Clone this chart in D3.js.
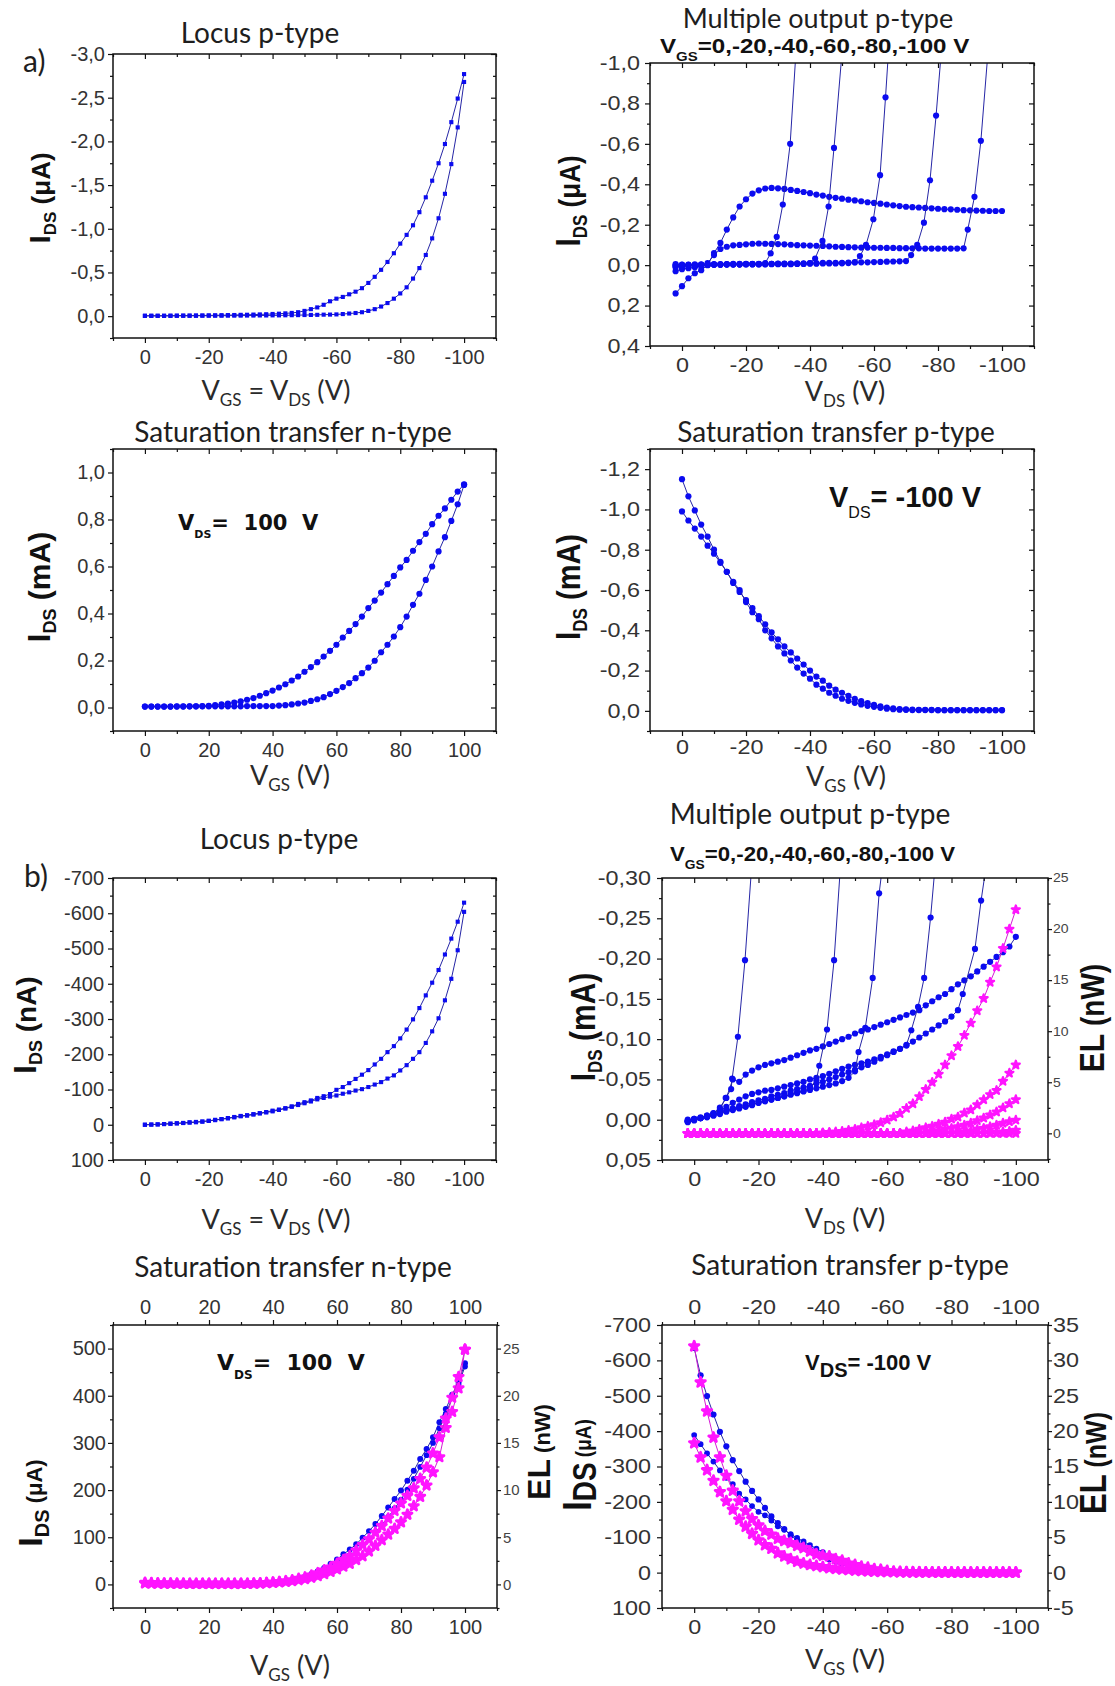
<!DOCTYPE html>
<html>
<head>
<meta charset="utf-8">
<title>Transistor characteristics</title>
<script src="https://cdn.jsdelivr.net/npm/d3@7/dist/d3.min.js"></script>
<style>
  html, body { margin: 0; padding: 0; background: #fff; }
  svg { display: block; }
</style>
</head>
<body>
<svg id="fig" width="1115" height="1686" viewBox="0 0 1115 1686"></svg>
<script>
// ---------- sweep grids (V) ----------
const vPos = [0,2,4,6,8,10,12,14,16,18,20,22,24,26,28,30,32,34,36,38,40,42,44,46,48,50,52,54,56,58,60,62,64,66,68,70,72,74,76,78,80,82,84,86,88,90,92,94,96,98,100];
const vNeg = [0,-2,-4,-6,-8,-10,-12,-14,-16,-18,-20,-22,-24,-26,-28,-30,-32,-34,-36,-38,-40,-42,-44,-46,-48,-50,-52,-54,-56,-58,-60,-62,-64,-66,-68,-70,-72,-74,-76,-78,-80,-82,-84,-86,-88,-90,-92,-94,-96,-98,-100];
const vNeg2 = [2,0,-2,-4,-6,-8,-10,-12,-14,-16,-18,-20,-22,-24,-26,-28,-30,-32,-34,-36,-38,-40,-42,-44,-46,-48,-50,-52,-54,-56,-58,-60,-62,-64,-66,-68,-70,-72,-74,-76,-78,-80,-82,-84,-86,-88,-90,-92,-94,-96,-98,-100];

// ---------- tick values ----------
const xTicksNeg = [0,-20,-40,-60,-80,-100];
const xTicksPos = [0,20,40,60,80,100];
const locusA_yTicks = [-3.0,-2.5,-2.0,-1.5,-1.0,-0.5,0.0];
const outA_yTicks = [-1.0,-0.8,-0.6,-0.4,-0.2,0.0,0.2,0.4];
const satNA_yTicks = [0.0,0.2,0.4,0.6,0.8,1.0];
const satPA_yTicks = [-1.2,-1.0,-0.8,-0.6,-0.4,-0.2,0.0];
const locusB_yTicks = [-700,-600,-500,-400,-300,-200,-100,0,100];
const outB_yTicks = [-0.30,-0.25,-0.20,-0.15,-0.10,-0.05,0.00,0.05];
const outB_elTicks = [0,5,10,15,20,25];
const satNB_yTicks = [0,100,200,300,400,500];
const satNB_elTicks = [0,5,10,15,20,25];
const satPB_yTicks = [-700,-600,-500,-400,-300,-200,-100,0,100];
const satPB_elTicks = [-5,0,5,10,15,20,25,30,35];

// ---------- (a) locus p-type, I_DS in uA, V_GS = V_DS from 0 to -100 V ----------
const locusA_fwd = [-0.005,-0.005,-0.005,-0.005,-0.006,-0.006,-0.007,-0.007,-0.008,-0.008,-0.009,-0.010,-0.011,-0.012,-0.013,-0.015,-0.016,-0.018,-0.020,-0.022,-0.025,-0.028,-0.032,-0.037,-0.045,-0.060,-0.080,-0.100,-0.130,-0.170,-0.200,-0.220,-0.250,-0.280,-0.320,-0.380,-0.450,-0.530,-0.620,-0.720,-0.830,-0.930,-1.040,-1.190,-1.360,-1.550,-1.750,-1.970,-2.220,-2.490,-2.770];
const locusA_rev = [-0.003,-0.003,-0.003,-0.003,-0.003,-0.004,-0.004,-0.004,-0.004,-0.005,-0.005,-0.005,-0.005,-0.006,-0.006,-0.006,-0.007,-0.007,-0.008,-0.008,-0.009,-0.009,-0.010,-0.011,-0.012,-0.013,-0.014,-0.015,-0.017,-0.018,-0.020,-0.024,-0.030,-0.036,-0.045,-0.060,-0.080,-0.110,-0.150,-0.200,-0.260,-0.330,-0.430,-0.550,-0.700,-0.890,-1.120,-1.400,-1.740,-2.160,-2.680];

// ---------- (a) multiple output p-type, I_DS in uA, V_DS from +2 V ----------
const outA_s0 = [0.140,0.104,0.065,0.040,0.025,0.000,-0.060,-0.110,-0.176,-0.236,-0.290,-0.326,-0.354,-0.370,-0.379,-0.382,-0.380,-0.377,-0.372,-0.367,-0.362,-0.356,-0.349,-0.344,-0.338,-0.333,-0.329,-0.324,-0.320,-0.316,-0.311,-0.308,-0.304,-0.300,-0.296,-0.292,-0.289,-0.287,-0.285,-0.283,-0.281,-0.279,-0.277,-0.276,-0.274,-0.272,-0.271,-0.270,-0.269,-0.268,-0.268,-0.268];
const outA_s1 = [0.030,0.020,0.015,0.010,0.005,-0.010,-0.050,-0.080,-0.091,-0.098,-0.100,-0.103,-0.106,-0.107,-0.106,-0.105,-0.104,-0.103,-0.101,-0.099,-0.098,-0.097,-0.096,-0.095,-0.093,-0.091,-0.090,-0.089,-0.088,-0.087,-0.087,-0.086,-0.086,-0.085,-0.085,-0.084,-0.084,-0.083,-0.083,-0.082,-0.082,-0.082,-0.082,-0.082,-0.082,-0.083];
const outA_s1RiseV = [-89.3,-91.4,-93.4,-95.6];
const outA_s1RiseI = [-0.176,-0.338,-0.615,-1.050];
const outA_s2 = [0.000,-0.002,-0.003,-0.004,-0.004,-0.004,-0.005,-0.005,-0.005,-0.006,-0.006,-0.006,-0.006,-0.007,-0.007,-0.007,-0.008,-0.008,-0.008,-0.009,-0.009,-0.010,-0.010,-0.011,-0.011,-0.012,-0.012,-0.013,-0.013,-0.014,-0.014,-0.015,-0.016,-0.017,-0.018,-0.019,-0.020];
const outA_s2RiseV = [-71.6,-73.5,-75.6,-77.5,-79.4,-81.0];
const outA_s2RiseI = [-0.050,-0.100,-0.210,-0.420,-0.740,-1.050];
const outA_s3 = [0.010,0.005,0.002,0.000,-0.001,-0.002,-0.003,-0.003,-0.004,-0.004,-0.004,-0.005,-0.005,-0.005,-0.005,-0.006,-0.006,-0.006,-0.006,-0.007,-0.007,-0.007,-0.007,-0.008,-0.008,-0.008,-0.009,-0.010,-0.015];
const outA_s3RiseV = [-55.6,-57.5,-59.8,-61.9,-63.6,-64.5];
const outA_s3RiseI = [-0.045,-0.100,-0.227,-0.445,-0.830,-1.050];
const outA_s4 = [0.005,0.004,0.003,0.002,0.000,-0.001,-0.002,-0.002,-0.003,-0.003,-0.003,-0.004,-0.004,-0.004,-0.004,-0.005,-0.005,-0.005,-0.005,-0.006,-0.006,-0.010];
const outA_s4RiseV = [-41.6,-43.9,-45.8,-47.5,-50.0];
const outA_s4RiseI = [-0.033,-0.120,-0.290,-0.580,-1.050];
const outA_s5 = [-0.005,-0.003,-0.001,0.000,-0.001,-0.002,-0.003,-0.003,-0.004,-0.004,-0.004,-0.005,-0.005,-0.005,-0.010];
const outA_s5RiseV = [-27.7,-29.6,-31.5,-33.8,-35.6];
const outA_s5RiseI = [-0.058,-0.140,-0.300,-0.600,-1.050];

// ---------- (a) saturation transfer n-type, I_DS in mA, V_DS = 100 V ----------
const satNA_fwd = [0.004,0.004,0.004,0.004,0.004,0.005,0.005,0.005,0.005,0.006,0.007,0.010,0.013,0.017,0.021,0.026,0.033,0.040,0.050,0.061,0.072,0.085,0.099,0.115,0.132,0.152,0.172,0.193,0.217,0.241,0.267,0.298,0.326,0.355,0.387,0.423,0.455,0.489,0.525,0.560,0.596,0.628,0.667,0.704,0.739,0.780,0.816,0.847,0.884,0.919,0.950];
const satNA_rev = [0.004,0.004,0.004,0.004,0.004,0.004,0.004,0.005,0.005,0.005,0.005,0.005,0.005,0.005,0.005,0.005,0.006,0.006,0.006,0.006,0.006,0.008,0.010,0.013,0.017,0.021,0.028,0.035,0.044,0.057,0.071,0.087,0.104,0.125,0.146,0.170,0.199,0.235,0.267,0.302,0.342,0.387,0.437,0.484,0.543,0.600,0.664,0.725,0.794,0.865,0.947];

// ---------- (a) saturation transfer p-type, I_DS in mA, V_DS = -100 V ----------
const satPA_fwd = [-1.150,-1.065,-0.995,-0.925,-0.865,-0.800,-0.740,-0.690,-0.635,-0.590,-0.550,-0.510,-0.470,-0.430,-0.390,-0.355,-0.320,-0.290,-0.260,-0.230,-0.200,-0.170,-0.150,-0.125,-0.105,-0.090,-0.075,-0.060,-0.048,-0.038,-0.030,-0.022,-0.016,-0.012,-0.009,-0.007,-0.006,-0.005,-0.005,-0.005,-0.004,-0.004,-0.004,-0.004,-0.004,-0.004,-0.004,-0.004,-0.004,-0.004,-0.004];
const satPA_rev = [-0.990,-0.945,-0.905,-0.865,-0.820,-0.780,-0.735,-0.690,-0.640,-0.600,-0.540,-0.490,-0.455,-0.400,-0.360,-0.320,-0.285,-0.250,-0.215,-0.185,-0.160,-0.130,-0.110,-0.090,-0.075,-0.060,-0.050,-0.040,-0.032,-0.025,-0.020,-0.015,-0.011,-0.008,-0.006,-0.005,-0.004,-0.004,-0.004,-0.004,-0.003,-0.003,-0.003,-0.003,-0.003,-0.003,-0.003,-0.003,-0.003,-0.003,-0.003];

// ---------- (b) locus p-type, I_DS in nA ----------
const locusB_fwd = [0,-0.5,-1,-2,-3,-4,-5,-7,-8,-9,-11,-14,-16,-19,-22,-25,-27,-30,-33,-36,-40,-43,-47,-52,-59,-64,-69,-76,-81,-87,-99,-107,-118,-130,-142,-155,-171,-187,-206,-223,-245,-270,-299,-331,-367,-403,-439,-483,-528,-576,-630];
const locusB_rev = [0,-0.5,-1,-2,-3,-4,-5,-6,-7,-9,-11,-13,-16,-18,-21,-24,-26,-29,-32,-35,-38,-42,-46,-51,-56,-61,-66,-72,-76,-80,-83,-88,-92,-97,-101,-107,-114,-121,-131,-140,-154,-169,-187,-206,-232,-265,-302,-353,-414,-495,-604];

// ---------- (b) multiple output p-type, I_DS in mA ----------
const outB_b0 = [0.002,0.000,-0.002,-0.004,-0.008,-0.015,-0.027,-0.050,-0.047,-0.056,-0.061,-0.065,-0.068,-0.070,-0.072,-0.074,-0.077,-0.080,-0.083,-0.086,-0.088,-0.091,-0.094,-0.097,-0.100,-0.103,-0.107,-0.110,-0.112,-0.115,-0.118,-0.121,-0.124,-0.127,-0.130,-0.133,-0.136,-0.142,-0.147,-0.152,-0.156,-0.162,-0.168,-0.173,-0.178,-0.184,-0.190,-0.196,-0.202,-0.208,-0.215,-0.227];
const outB_b1 = [0.002,0.000,-0.003,-0.005,-0.008,-0.011,-0.016,-0.021,-0.025,-0.029,-0.032,-0.034,-0.036,-0.037,-0.039,-0.041,-0.043,-0.045,-0.047,-0.050,-0.052,-0.054,-0.057,-0.060,-0.063,-0.066,-0.068,-0.070,-0.072,-0.075,-0.078,-0.081,-0.085,-0.088,-0.092,-0.097,-0.102,-0.107,-0.112,-0.117,-0.122,-0.128,-0.136];
const outB_b1RiseV = [-83.5,-87.3,-89.2,-90.6];
const outB_b1RiseI = [-0.156,-0.212,-0.272,-0.310];
const outB_b2 = [0.002,0.000,-0.002,-0.004,-0.006,-0.009,-0.012,-0.014,-0.017,-0.019,-0.022,-0.024,-0.026,-0.029,-0.031,-0.033,-0.036,-0.038,-0.040,-0.042,-0.045,-0.047,-0.050,-0.053,-0.056,-0.059,-0.062,-0.065,-0.068,-0.072,-0.076,-0.080,-0.084,-0.088,-0.093];
const outB_b2RiseV = [-67.5,-69.6,-71.5,-73.5,-74.8];
const outB_b2RiseI = [-0.111,-0.140,-0.176,-0.251,-0.310];
const outB_b3 = [0.001,-0.001,-0.002,-0.003,-0.005,-0.007,-0.010,-0.012,-0.014,-0.016,-0.018,-0.021,-0.023,-0.025,-0.027,-0.029,-0.031,-0.033,-0.035,-0.037,-0.039,-0.041,-0.043,-0.045,-0.048,-0.052,-0.060];
const outB_b3RiseV = [-51.1,-53.2,-55.5,-57.5,-58.4];
const outB_b3RiseI = [-0.084,-0.114,-0.176,-0.281,-0.310];
const outB_b4 = [0.000,-0.001,-0.002,-0.004,-0.006,-0.008,-0.011,-0.013,-0.015,-0.017,-0.019,-0.021,-0.023,-0.025,-0.027,-0.029,-0.032,-0.034,-0.036,-0.040,-0.049];
const outB_b4RiseV = [-38.9,-41.3,-43.5,-45.4];
const outB_b4RiseI = [-0.067,-0.112,-0.198,-0.310];
const outB_b5 = [0.003,0.001,-0.002,-0.005,-0.008,-0.013];
const outB_b5RiseV = [-9.8,-11.5,-11.8,-13.6,-15.8,-17.8];
const outB_b5RiseI = [-0.027,-0.038,-0.051,-0.103,-0.198,-0.310];
// electroluminescence (nW), same V_DS sweeps
const outB_el0 = [0,0,0,0,0,0,0,0,0,0, 0,0,0,0,0,0,0,0,0,0, 0, 0.05,0.10,0.15,0.20,0.30,0.40,0.55,0.70,0.85,1.05,1.30,1.60,1.95,2.45,2.90,3.60,4.30,5.00,5.80,6.70,7.60,8.50,9.60,10.80,12.00,13.20,14.80,16.30,18.10,20.00,21.90];
const outB_el1 = [0,0,0,0,0,0,0,0,0,0, 0,0,0,0,0,0,0,0,0,0, 0,0,0,0,0,0,0,0,0,0, 0,0,0,0, 0.15,0.25,0.40,0.55,0.70,0.90,1.10,1.40,1.60,2.00,2.30,2.80,3.30,3.80,4.20,5.10,5.90,6.70];
const outB_el2 = [0,0,0,0,0,0,0,0,0,0, 0,0,0,0,0,0,0,0,0,0, 0,0,0,0,0,0,0,0,0,0, 0,0,0,0,0,0,0,0, 0.15,0.25,0.40,0.50,0.65,0.80,1.00,1.25,1.50,1.80,2.10,2.50,2.90,3.30];
const outB_el3 = [0,0,0,0,0,0,0,0,0,0, 0,0,0,0,0,0,0,0,0,0, 0,0,0,0,0,0,0,0,0,0, 0,0,0,0,0,0,0,0,0,0, 0,0,0, 0.15,0.25,0.40,0.50,0.65,0.80,1.00,1.15,1.30];
const outB_el4 = [0,0,0,0,0,0,0,0,0,0, 0,0,0,0,0,0,0,0,0,0, 0,0,0,0,0,0,0,0,0,0, 0,0,0,0,0,0,0,0,0,0, 0,0,0,0,0,0,0, 0.05,0.10,0.15,0.20,0.30];
const outB_el5 = [0,0,0,0,0,0,0,0,0,0, 0,0,0,0,0,0,0,0,0,0, 0,0,0,0,0,0,0,0,0,0, 0,0,0,0,0,0,0,0,0,0, 0,0,0,0,0,0,0,0,0,0, 0,0];

// ---------- (b) saturation transfer n-type, I_DS in uA and EL in nW ----------
const satNB_fwd = [2,2,2,2,2,2,2,2,2,2,2,2,2,2,2,2,3,3,3,4,4,5,7,10,13,17,22,28,35,44,53,64,74,85,99,113,128,145,163,181,199,220,241,266,287,312,344,372,402,430,469];
const satNB_rev = [1,1,1,1,1,1,1,1,1,1,1,1,1,1,2,2,2,2,2,3,3,4,5,7,10,13,17,22,28,35,43,52,62,72,84,97,111,126,143,161,180,201,224,249,274,300,331,362,395,425,462];
const satNB_elFwd = [0.18,0.15,0.12,0.10,0.10,0.09,0.09,0.08,0.08,0.08,0.07,0.07,0.07,0.07,0.07,0.07,0.08,0.10,0.13,0.17,0.22,0.28,0.35,0.45,0.60,0.75,0.95,1.20,1.50,1.80,2.20,2.60,3.00,3.60,4.20,4.80,5.50,6.20,7.00,7.80,8.60,9.40,10.20,11.20,12.40,13.90,15.60,17.60,19.80,22.00,24.90];
const satNB_elRev = [0.12,0.11,0.10,0.09,0.09,0.08,0.08,0.08,0.07,0.07,0.07,0.07,0.07,0.07,0.07,0.07,0.08,0.09,0.11,0.14,0.17,0.22,0.28,0.36,0.46,0.58,0.72,0.90,1.10,1.35,1.60,1.90,2.20,2.60,3.00,3.50,4.10,4.70,5.30,5.90,6.60,7.40,8.30,9.30,10.50,11.90,13.50,16.60,18.30,20.80,24.90];

// ---------- (b) saturation transfer p-type, I_DS in uA and EL in nW ----------
const satPB_fwd = [-635,-558,-499,-447,-398,-357,-318,-287,-257,-231,-207,-183,-159,-140,-123,-105,-91,-77,-65,-55,-46,-38,-31,-25,-20,-16,-12,-9,-7,-5,-4,-3,-3,-3,-2,-2,-2,-2,-2,-2,-1,-1,-1,-1,-1,-1,-1,-1,-1,-1,-1];
const satPB_rev = [-389,-363,-337,-314,-289,-268,-250,-223,-207,-188,-172,-162,-147,-131,-121,-109,-98,-88,-78,-68,-58,-48,-40,-33,-27,-22,-17,-13,-10,-8,-6,-4,-4,-3,-3,-3,-2,-2,-2,-2,-2,-1,-1,-1,-1,-1,-1,-1,-1,-1,-1];
const satPB_elFwd = [32.0,26.9,22.8,19.1,16.3,13.7,11.6,10.1,8.7,7.6,6.7,5.9,5.4,4.8,4.5,4.2,3.8,3.5,3.0,2.6,2.4,2.3,1.9,1.7,1.3,1.1,0.85,0.7,0.5,0.4,0.25,0.15,0.10,0.08,0.05,0.05,0.03,0.03,0.02,0.02,0.02,0.02,0.02,0.02,0.02,0.02,0.02,0.02,0.02,0.02,0.02];
const satPB_elRev = [18.3,16.3,14.5,13.0,11.4,10.1,8.9,7.5,6.5,5.5,4.6,3.9,3.4,2.75,2.3,1.9,1.55,1.3,1.1,0.95,0.8,0.65,0.55,0.45,0.38,0.30,0.25,0.20,0.15,0.12,0.10,0.08,0.06,0.05,0.05,0.04,0.04,0.03,0.03,0.03,0.03,0.02,0.02,0.02,0.02,0.02,0.02,0.02,0.02,0.02,0.02];

// ================= drawing =================
const BLUE = "#0b0bf0", BLUE_LINE = "#2626a6";
const MAG = "#ff14ff", MAG_LINE = "#d41ed4";
const TICK_FONT = "'Liberation Sans', Arial, sans-serif";
const TITLE_FONT = "Lato, 'Open Sans', sans-serif";
const ROUND_FONT = "'DejaVu Sans', Verdana, sans-serif";
const STRETCH = 1.17; // right-hand column is drawn slightly wider

const loc = d3.formatLocale({decimal: ",", thousands: ".", grouping: [3], currency: ["", ""], minus: "-"});
const f1 = loc.format(".1f"), f2 = loc.format(".2f"), fInt = d => String(d);

const svg = d3.select("#fig");
svg.append("rect").attr("width", 1115).attr("height", 1686).attr("fill", "#fff");
const defs = svg.append("defs");

function sweep(grid, flat, riseV = [], riseI = []) {
  return { x: grid.slice(0, flat.length).concat(riseV), y: flat.concat(riseI) };
}

function minorOf(major, domain) {
  const half = Math.abs(major[1] - major[0]) / 2;
  const lo = Math.min(...domain), hi = Math.max(...domain);
  const vals = [];
  for (let k = Math.ceil(lo / half - 1e-9); k * half <= hi + 1e-9; k++) vals.push(+(k * half).toFixed(6));
  return vals.filter(v => !major.some(m => Math.abs(m - v) < half / 10));
}

function richText(parent, o) {
  const g = parent.append("g")
    .attr("transform", `translate(${o.x},${o.y}) scale(${o.sx || 1},1)${o.rotate ? " rotate(-90)" : ""}`);
  const t = g.append("text").attr("x", 0).attr("y", 0)
    .attr("text-anchor", o.anchor || "start")
    .attr("font-family", o.family).attr("font-size", o.size)
    .attr("font-weight", o.weight || "normal")
    .attr("fill", o.fill || "#1c1c1c")
    .style("white-space", "pre");
  let cur = 0;
  o.parts.forEach(p => {
    const s = p.shift || 0;
    const ts = t.append("tspan").attr("dy", s - cur).text(p.t);
    cur = s;
    if (p.size) ts.attr("font-size", p.size);
    if (p.weight) ts.attr("font-weight", p.weight);
    if (p.family) ts.attr("font-family", p.family);
  });
  return t;
}

function axis(g, gen, tx, ty, values, size, pad, fmt, o = {}) {
  const a = g.append("g").attr("transform", `translate(${tx},${ty})`)
    .call(gen.tickValues(values).tickSize(size).tickSizeOuter(0).tickPadding(pad)
      .tickFormat(fmt || (() => "")));
  a.select(".domain").remove();
  a.attr("font-family", TICK_FONT).attr("font-size", o.fontSize || 20);
  a.selectAll("line").attr("stroke", "#111").attr("stroke-width", 1.2);
  a.selectAll("text").attr("fill", o.color || "#333");
  if (o.sx && o.sx !== 1) {
    a.selectAll("text").each(function () {
      const t = d3.select(this);
      const ax = +t.attr("x") || 0, ay = +t.attr("y") || 0;
      t.attr("transform", `translate(${ax},${ay}) scale(${o.sx},1) translate(${-ax},${-ay})`);
    });
  }
  return a;
}

function drawPanel(p) {
  const g = svg.append("g");
  const x = d3.scaleLinear().domain(p.xDomain).range([p.left, p.right]);
  const y = d3.scaleLinear().domain(p.yDomain).range([p.bottom, p.top]);
  const y2 = p.y2Domain ? d3.scaleLinear().domain(p.y2Domain).range([p.bottom, p.top]) : null;

  const clipId = "clip-" + p.id;
  defs.append("clipPath").attr("id", clipId).append("rect")
    .attr("x", p.left).attr("y", p.top)
    .attr("width", p.right - p.left).attr("height", p.bottom - p.top);
  const plot = g.append("g").attr("clip-path", `url(#${clipId})`);

  p.series.forEach(s => {
    const ys = s.right ? y2 : y;
    const pts = s.x.map((v, i) => [x(v), ys(s.y[i])]);
    plot.append("path").attr("d", d3.line()(pts)).attr("fill", "none")
      .attr("stroke", s.lineColor).attr("stroke-width", s.lineWidth || 1);
    const sym = d3.symbol().type(s.shape).size(s.size);
    plot.append("g").selectAll("path").data(pts).join("path")
      .attr("transform", d => `translate(${d[0]},${d[1]})`)
      .attr("d", sym).attr("fill", s.color)
      .attr("stroke", s.stroke || "none").attr("stroke-width", s.strokeWidth || 0)
      .attr("stroke-linejoin", "round");
  });

  const sx = p.sx || 1;
  const xMinor = minorOf(p.xTicks, p.xDomain);
  const yMinor = minorOf(p.yTicks, p.yDomain);

  // bottom
  axis(g, d3.axisBottom(x), 0, p.bottom, p.xTicks, 5, p.bottomPad || 7, fInt, {sx});
  axis(g, d3.axisBottom(x), 0, p.bottom, xMinor, 3, 3, null);
  // left
  axis(g, d3.axisLeft(y), p.left, 0, p.yTicks, 5, p.leftPad, p.yFmt, {sx});
  axis(g, d3.axisLeft(y), p.left, 0, yMinor, 3, 3, null);
  // top
  if (p.topLabels) {
    axis(g, d3.axisTop(x), 0, p.top, p.xTicks, 5, 6, fInt, {sx});
    axis(g, d3.axisTop(x), 0, p.top, xMinor, 3, 3, null);
  } else {
    axis(g, d3.axisTop(x), 0, p.top, p.xTicks, -5, 3, null);
    axis(g, d3.axisTop(x), 0, p.top, xMinor, -3, 3, null);
  }
  // right
  if (y2) {
    const r = p.right2;
    axis(g, d3.axisRight(y2), p.right, 0, r.ticks, 4, r.pad, fInt, {sx, fontSize: r.fontSize, color: r.color});
    axis(g, d3.axisRight(y2), p.right, 0, minorOf(r.ticks, p.y2Domain), 2.5, 3, null);
  } else {
    axis(g, d3.axisRight(y), p.right, 0, p.yTicks, -5, 3, null);
    axis(g, d3.axisRight(y), p.right, 0, yMinor, -3, 3, null);
  }

  g.append("rect").attr("x", p.left).attr("y", p.top)
    .attr("width", p.right - p.left).attr("height", p.bottom - p.top)
    .attr("fill", "none").attr("stroke", "#111").attr("stroke-width", 1.5);
  return g;
}

// marker styles
const sq = (o = {}) => Object.assign({shape: d3.symbolSquare, size: 17, color: BLUE, lineColor: BLUE_LINE}, o);
const dot = (o = {}) => Object.assign({shape: d3.symbolCircle, size: 30, color: BLUE, lineColor: BLUE_LINE}, o);
const star = (o = {}) => Object.assign({shape: d3.symbolStar, size: 20, color: MAG, lineColor: MAG_LINE,
  stroke: MAG, strokeWidth: 2.2, right: true}, o);

// ---------- text helpers for titles / axis names ----------
function title(t, cx, base, size) {
  richText(svg, {x: cx, y: base, anchor: "middle", family: TITLE_FONT, size: size || 28, fill: "#1e1e1e", parts: [{t}]});
}
function xName(parts, cx, base) {
  richText(svg, {x: cx, y: base, anchor: "middle", family: TITLE_FONT, size: 27, fill: "#2a2a2a", parts});
}
function idsName(unit, bx, cy, s, sx) {
  richText(svg, {x: bx, y: cy, anchor: "middle", family: TICK_FONT, weight: "bold", size: s.rest,
    rotate: true, sx: sx || 1, fill: "#111",
    parts: [{t: "I", size: s.i}, {t: "DS", size: s.ds, shift: s.shift}, {t: " (" + unit + ")", shift: 0}]});
}
function elName(bx, cy, s, sx) {
  richText(svg, {x: bx, y: cy, anchor: "middle", family: TICK_FONT, weight: "bold", size: s.rest,
    rotate: true, sx: sx || 1, fill: "#111",
    parts: [{t: "EL", size: s.el}, {t: " (nW)"}]});
}
const vgsParts = [{t: "V"}, {t: "GS", size: 17, shift: 6}, {t: " (V)", shift: 0}];
const vdsParts = [{t: "V"}, {t: "DS", size: 17, shift: 6}, {t: " (V)", shift: 0}];
const locusParts = [{t: "V"}, {t: "GS", size: 17, shift: 6}, {t: " = V", shift: 0}, {t: "DS", size: 17, shift: 6}, {t: " (V)", shift: 0}];

// ================= (a) row 1 =================
drawPanel({
  id: "a1", left: 113, right: 496, top: 54, bottom: 338,
  xDomain: [10, -110], yDomain: [0.25, -3.0],
  xTicks: xTicksNeg, yTicks: locusA_yTicks, yFmt: f1, leftPad: 3,
  series: [sq({x: vNeg, y: locusA_fwd}), sq({x: vNeg, y: locusA_rev})]
});
title("Locus p-type", 260, 43);
richText(svg, {x: 23, y: 72, family: TITLE_FONT, size: 30, fill: "#1e1e1e", parts: [{t: "a)"}]});
xName(locusParts, 276, 400);
idsName("μA", 50, 198, {i: 30, ds: 17, shift: 6, rest: 26});

drawPanel({
  id: "a2", left: 650, right: 1034, top: 63, bottom: 346,
  xDomain: [10, -110], yDomain: [0.4, -1.0],
  xTicks: xTicksNeg, yTicks: outA_yTicks, yFmt: f1, leftPad: 5, sx: STRETCH,
  series: [
    dot(sweep(vNeg2, outA_s0)),
    dot(sweep(vNeg2, outA_s1, outA_s1RiseV, outA_s1RiseI)),
    dot(sweep(vNeg2, outA_s2, outA_s2RiseV, outA_s2RiseI)),
    dot(sweep(vNeg2, outA_s3, outA_s3RiseV, outA_s3RiseI)),
    dot(sweep(vNeg2, outA_s4, outA_s4RiseV, outA_s4RiseI)),
    dot(sweep(vNeg2, outA_s5, outA_s5RiseV, outA_s5RiseI))
  ]
});
title("Multiple output p-type", 818, 28, 27);
richText(svg, {x: 660, y: 53, family: TICK_FONT, weight: "bold", size: 21, fill: "#111", sx: 1.15,
  parts: [{t: "V"}, {t: "GS", size: 13, shift: 8}, {t: "=0,-20,-40,-60,-80,-100 V", shift: 0}]});
xName(vdsParts, 845, 401);
idsName("μA", 580, 201, {i: 30, ds: 17, shift: 6, rest: 26}, STRETCH);

// ================= (a) row 2 =================
drawPanel({
  id: "a3", left: 113, right: 496, top: 449, bottom: 731,
  xDomain: [-10, 110], yDomain: [-0.1, 1.1],
  xTicks: xTicksPos, yTicks: satNA_yTicks, yFmt: f1, leftPad: 3,
  series: [dot({x: vPos, y: satNA_fwd}), dot({x: vPos, y: satNA_rev})]
});
title("Saturation transfer n-type", 293, 442);
richText(svg, {x: 178, y: 530, family: ROUND_FONT, weight: "bold", size: 21, fill: "#111",
  parts: [{t: "V"}, {t: "DS", size: 11, shift: 8}, {t: "=  100  V", shift: 0}]});
xName(vgsParts, 290, 785);
idsName("mA", 50, 587, {i: 31, ds: 18, shift: 6, rest: 30});

drawPanel({
  id: "a4", left: 650, right: 1034, top: 449, bottom: 731,
  xDomain: [10, -110], yDomain: [0.1, -1.3],
  xTicks: xTicksNeg, yTicks: satPA_yTicks, yFmt: f1, leftPad: 5, sx: STRETCH, bottomPad: 4,
  series: [dot({x: vNeg, y: satPA_fwd}), dot({x: vNeg, y: satPA_rev})]
});
title("Saturation transfer p-type", 836, 442);
richText(svg, {x: 829, y: 507, family: TICK_FONT, weight: "bold", size: 29, fill: "#111",
  parts: [{t: "V"}, {t: "DS", size: 16, weight: "normal", shift: 11}, {t: "= -100 V", shift: 0}]});
xName(vgsParts, 846, 786);
idsName("mA", 580, 587, {i: 30, ds: 17, shift: 6, rest: 29}, STRETCH);

// ================= (b) row 3 =================
drawPanel({
  id: "b1", left: 113, right: 496, top: 878, bottom: 1160,
  xDomain: [10, -110], yDomain: [100, -700],
  xTicks: xTicksNeg, yTicks: locusB_yTicks, yFmt: fInt, leftPad: 4,
  series: [sq({x: vNeg, y: locusB_fwd}), sq({x: vNeg, y: locusB_rev})]
});
title("Locus p-type", 279, 849);
richText(svg, {x: 24, y: 887, family: TITLE_FONT, size: 30, fill: "#1e1e1e", parts: [{t: "b)"}]});
xName(locusParts, 276, 1229);
idsName("nA", 36, 1025, {i: 31, ds: 18, shift: 6, rest: 28});

drawPanel({
  id: "b2", left: 662, right: 1048, top: 878, bottom: 1160,
  xDomain: [10, -110], yDomain: [0.05, -0.30], y2Domain: [-2.61, 25],
  right2: {ticks: outB_elTicks, pad: 1, fontSize: 12, color: "#444"},
  xTicks: xTicksNeg, yTicks: outB_yTicks, yFmt: f2, leftPad: 6, sx: STRETCH,
  series: [
    dot(sweep(vNeg2, outB_b0)),
    dot(sweep(vNeg2, outB_b1, outB_b1RiseV, outB_b1RiseI)),
    dot(sweep(vNeg2, outB_b2, outB_b2RiseV, outB_b2RiseI)),
    dot(sweep(vNeg2, outB_b3, outB_b3RiseV, outB_b3RiseI)),
    dot(sweep(vNeg2, outB_b4, outB_b4RiseV, outB_b4RiseI)),
    dot(sweep(vNeg2, outB_b5, outB_b5RiseV, outB_b5RiseI)),
    star(sweep(vNeg2, outB_el5)),
    star(sweep(vNeg2, outB_el4)),
    star(sweep(vNeg2, outB_el3)),
    star(sweep(vNeg2, outB_el2)),
    star(sweep(vNeg2, outB_el1)),
    star(sweep(vNeg2, outB_el0))
  ]
});
title("Multiple output p-type", 810, 824);
richText(svg, {x: 670, y: 861, family: TICK_FONT, weight: "bold", size: 21, fill: "#111", sx: 1.06,
  parts: [{t: "V"}, {t: "GS", size: 13, shift: 8}, {t: "=0,-20,-40,-60,-80,-100 V", shift: 0}]});
xName(vdsParts, 845, 1228);
idsName("mA", 595, 1027, {i: 30, ds: 17, shift: 6, rest: 30}, STRETCH);
elName(1104, 1018, {el: 30, rest: 28}, STRETCH);

// ================= (b) row 4 =================
drawPanel({
  id: "b3", left: 113, right: 497, top: 1325, bottom: 1608,
  xDomain: [-10, 110], yDomain: [-50, 550], y2Domain: [-2.5, 27.5],
  right2: {ticks: satNB_elTicks, pad: 2, fontSize: 15, color: "#444"},
  topLabels: true,
  xTicks: xTicksPos, yTicks: satNB_yTicks, yFmt: fInt, leftPad: 2,
  series: [
    dot({x: vPos, y: satNB_fwd, size: 28}), dot({x: vPos, y: satNB_rev, size: 26}),
    star({x: vPos, y: satNB_elRev, size: 26, strokeWidth: 2.8}),
    star({x: vPos, y: satNB_elFwd, size: 26, strokeWidth: 2.8})
  ]
});
title("Saturation transfer n-type", 293, 1277);
richText(svg, {x: 217, y: 1370, family: ROUND_FONT, weight: "bold", size: 22, fill: "#111",
  parts: [{t: "V"}, {t: "DS", size: 12, shift: 9}, {t: "=  100  V", shift: 0}]});
xName(vgsParts, 290, 1675);
idsName("μA", 42, 1503, {i: 34, ds: 20, shift: 7, rest: 22});
elName(550, 1452, {el: 32, rest: 22});

drawPanel({
  id: "b4", left: 662, right: 1048, top: 1325, bottom: 1608,
  xDomain: [10, -110], yDomain: [100, -700], y2Domain: [-5, 35],
  right2: {ticks: satPB_elTicks, pad: 1, fontSize: 20, color: "#333"},
  topLabels: true,
  xTicks: xTicksNeg, yTicks: satPB_yTicks, yFmt: fInt, leftPad: 6, sx: STRETCH,
  series: [
    dot({x: vNeg, y: satPB_fwd, size: 30}), dot({x: vNeg, y: satPB_rev, size: 26}),
    star({x: vNeg, y: satPB_elRev, size: 28, strokeWidth: 2.8}),
    star({x: vNeg, y: satPB_elFwd, size: 28, strokeWidth: 2.8})
  ]
});
title("Saturation transfer p-type", 850, 1275);
richText(svg, {x: 805, y: 1370, family: TICK_FONT, weight: "bold", size: 22, fill: "#111",
  parts: [{t: "V"}, {t: "DS", size: 20, shift: 7}, {t: "= -100 V", shift: 0}]});
xName(vgsParts, 845, 1669);
idsName("μA", 591, 1465, {i: 34, ds: 28, shift: 4, rest: 19}, STRETCH);
elName(1106, 1463, {el: 31, rest: 25}, STRETCH);
</script>
</body>
</html>
